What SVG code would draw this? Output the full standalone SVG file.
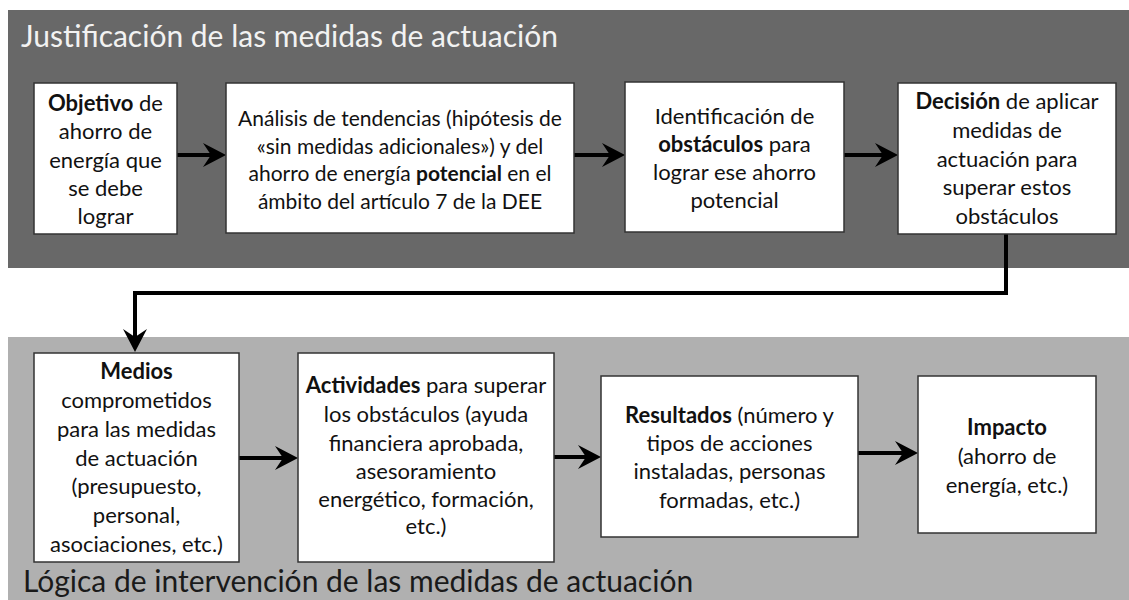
<svg xmlns="http://www.w3.org/2000/svg" width="1129" height="600" viewBox="0 0 1129 600">
<style>
  .box { fill: #ffffff; stroke: #333333; stroke-width: 1.5; }
  .t { font-family: Lato, "Liberation Sans", sans-serif; font-size: 22px; fill: #111111; text-anchor: middle; }
  .s { font-size: 21px; }
  .b { font-weight: bold; }
  .title { font-family: Lato, "Liberation Sans", sans-serif; font-size: 30px; }
  .conn { fill: none; stroke: #000000; stroke-width: 4; }
</style>
<defs>
  <marker id="ah" viewBox="-24 -13 26 26" refX="-12" refY="0" markerWidth="26" markerHeight="26" markerUnits="userSpaceOnUse" orient="auto">
    <path d="M0,0 L-23,-12 L-15,0 L-23,12 Z" fill="#000000"/>
  </marker>
</defs>
<rect width="1129" height="600" fill="#ffffff"/>
<g id="panel-top">
  <rect x="8" y="10" width="1121" height="258" fill="#686868"/>
  <text class="title" x="21" y="47" fill="#f2f2f2">Justificación de las medidas de actuación</text>
</g>
<g id="panel-bottom">
  <rect x="8" y="337" width="1121" height="263" fill="#b0b0b0"/>
  <text class="title" x="23" y="592" fill="#1a1a1a">Lógica de intervención de las medidas de actuación</text>
</g>
<g id="connectors">
  <path class="conn" d="M177,155 H214" marker-end="url(#ah)"/>
  <path class="conn" d="M574,155 H613" marker-end="url(#ah)"/>
  <path class="conn" d="M844,155 H886" marker-end="url(#ah)"/>
  <path class="conn" d="M1006,234 V293 H135 V340" marker-end="url(#ah)"/>
  <path class="conn" d="M239,458 H286" marker-end="url(#ah)"/>
  <path class="conn" d="M554,457 H589" marker-end="url(#ah)"/>
  <path class="conn" d="M858,453 H906" marker-end="url(#ah)"/>
</g>
<g id="n1">
  <rect class="box" x="34" y="83" width="143" height="151"/>
  <text class="t" x="105.5" y="111"><tspan class="b">Objetivo</tspan> de</text>
  <text class="t" x="105.5" y="139">ahorro de</text>
  <text class="t" x="105.5" y="168">energía que</text>
  <text class="t" x="105.5" y="196">se debe</text>
  <text class="t" x="105.5" y="224">lograr</text>
</g>
<g id="n2">
  <rect class="box" x="226" y="83" width="348" height="150"/>
  <text class="t s" x="400" y="126">Análisis de tendencias (hipótesis de</text>
  <text class="t s" x="400" y="154">«sin medidas adicionales») y del</text>
  <text class="t s" x="400" y="181">ahorro de energía <tspan class="b">potencial</tspan> en el</text>
  <text class="t s" x="400" y="209">ámbito del artículo 7 de la DEE</text>
</g>
<g id="n3">
  <rect class="box" x="625" y="82" width="219" height="150"/>
  <text class="t" x="734.5" y="124">Identificación de</text>
  <text class="t" x="734.5" y="152"><tspan class="b">obstáculos</tspan> para</text>
  <text class="t" x="734.5" y="180">lograr ese ahorro</text>
  <text class="t" x="734.5" y="208">potencial</text>
</g>
<g id="n4">
  <rect class="box" x="898" y="83" width="218" height="151"/>
  <text class="t" x="1007" y="109"><tspan class="b">Decisión</tspan> de aplicar</text>
  <text class="t" x="1007" y="138">medidas de</text>
  <text class="t" x="1007" y="167">actuación para</text>
  <text class="t" x="1007" y="195">superar estos</text>
  <text class="t" x="1007" y="224">obstáculos</text>
</g>
<g id="n5">
  <rect class="box" x="34" y="353" width="205" height="209"/>
  <text class="t b" x="136.5" y="379">Medios</text>
  <text class="t" x="136.5" y="408">comprometidos</text>
  <text class="t" x="136.5" y="437">para las medidas</text>
  <text class="t" x="136.5" y="466">de actuación</text>
  <text class="t" x="136.5" y="494">(presupuesto,</text>
  <text class="t" x="136.5" y="523">personal,</text>
  <text class="t" x="136.5" y="552">asociaciones, etc.)</text>
</g>
<g id="n6">
  <rect class="box" x="298" y="353" width="256" height="209"/>
  <text class="t" x="426" y="393"><tspan class="b">Actividades</tspan> para superar</text>
  <text class="t" x="426" y="422">los obstáculos (ayuda</text>
  <text class="t" x="426" y="451">financiera aprobada,</text>
  <text class="t" x="426" y="479">asesoramiento</text>
  <text class="t" x="426" y="507">energético, formación,</text>
  <text class="t" x="426" y="534">etc.)</text>
</g>
<g id="n7">
  <rect class="box" x="601" y="376" width="257" height="161"/>
  <text class="t" x="729.5" y="423"><tspan class="b">Resultados</tspan> (número y</text>
  <text class="t" x="729.5" y="451">tipos de acciones</text>
  <text class="t" x="729.5" y="479">instaladas, personas</text>
  <text class="t" x="729.5" y="508">formadas, etc.)</text>
</g>
<g id="n8">
  <rect class="box" x="918" y="376" width="178" height="157"/>
  <text class="t b" x="1007" y="435">Impacto</text>
  <text class="t" x="1007" y="464">(ahorro de</text>
  <text class="t" x="1007" y="493">energía, etc.)</text>
</g>
</svg>
